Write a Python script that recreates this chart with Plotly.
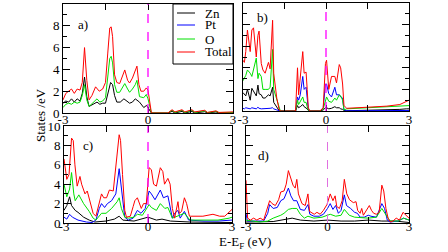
import plotly.graph_objects as go

# ---------------- data (energy in eV, DOS in states/eV) ----------------
# panel a
a_e_zn = [-3.0, -2.9, -2.8, -2.7, -2.6, -2.5, -2.4, -2.32, -2.24, -2.16, -2.08, -1.95, -1.8, -1.7, -1.6, -1.5, -1.42, -1.32, -1.25, -1.18, -1.1, -0.98, -0.85, -0.75, -0.65, -0.55, -0.45, -0.3, -0.15, -0.05, 0.05, 0.12, 0.7, 0.85, 0.95, 1.2, 1.3, 1.55, 1.65, 2.0, 2.1, 2.4, 2.5, 3.0]
a_zn = [0.9, 1.1, 1.0, 1.3, 1.0, 1.3, 1.1, 1.8, 3.3, 1.5, 0.6, 0.8, 1.0, 0.8, 0.9, 0.9, 1.8, 2.8, 2.6, 1.6, 1.0, 1.0, 1.3, 1.1, 0.9, 1.0, 1.3, 1.0, 0.5, 0.7, 0.3, 0.0, 0.0, 0.15, 0.0, 0.15, 0.0, 0.15, 0.0, 0.12, 0.0, 0.1, 0.0, 0.0]
a_e_o = [-3.0, -2.9, -2.8, -2.7, -2.6, -2.5, -2.4, -2.32, -2.24, -2.16, -2.08, -1.95, -1.8, -1.7, -1.6, -1.5, -1.42, -1.35, -1.3, -1.25, -1.18, -1.1, -1.0, -0.9, -0.82, -0.72, -0.65, -0.55, -0.45, -0.39, -0.3, -0.15, -0.06, 0.0, 0.06, 0.12, 0.7, 0.85, 0.95, 1.2, 1.3, 1.55, 1.65, 2.0, 2.1, 2.4, 2.5, 3.0]
a_o = [0.5, 0.8, 0.9, 0.8, 1.0, 0.9, 1.0, 1.6, 2.6, 1.2, 0.6, 0.9, 1.3, 1.0, 1.1, 1.4, 3.5, 5.0, 5.2, 4.6, 2.6, 1.9, 1.9, 2.3, 2.7, 2.2, 1.9, 2.2, 2.6, 3.0, 1.5, 1.4, 1.7, 1.3, 0.6, 0.0, 0.0, 0.25, 0.05, 0.25, 0.05, 0.25, 0.05, 0.2, 0.05, 0.15, 0.05, 0.05]
a_e_tot = [-3.0, -2.9, -2.8, -2.7, -2.6, -2.5, -2.4, -2.32, -2.24, -2.16, -2.08, -1.98, -1.85, -1.72, -1.6, -1.5, -1.42, -1.35, -1.3, -1.25, -1.18, -1.1, -1.0, -0.9, -0.82, -0.72, -0.65, -0.55, -0.45, -0.39, -0.32, -0.25, -0.15, -0.06, 0.0, 0.06, 0.12, 0.7, 0.85, 0.95, 1.2, 1.3, 1.55, 1.65, 2.0, 2.1, 2.4, 2.5, 2.8, 3.0]
a_tot = [1.2, 1.8, 2.0, 2.2, 1.8, 2.2, 2.1, 2.8, 6.0, 3.0, 1.2, 1.6, 2.4, 2.0, 2.2, 2.8, 5.5, 7.8, 7.9, 7.0, 3.5, 2.8, 2.7, 3.4, 3.95, 3.0, 2.75, 3.2, 3.8, 4.3, 2.6, 2.0, 2.0, 2.3, 2.1, 1.0, 0.0, 0.0, 0.3, 0.1, 0.3, 0.1, 0.3, 0.1, 0.25, 0.05, 0.2, 0.05, 0.1, 0.1]

# panel b
b_e = [-3.0, -2.95, -2.9, -2.84, -2.74, -2.68, -2.62, -2.52, -2.46, -2.42, -2.34, -2.28, -2.2, -2.08, -2.02, -1.93, -1.89, -1.78, -1.7, -1.65, -1.1, -1.03, -0.99, -0.93, -0.84, -0.79, -0.72, -0.68, -0.64, -0.58, -0.22, -0.1, -0.02, 0.02, 0.1, 0.2, 0.32, 0.38, 0.48, 0.53, 0.6, 0.65, 0.75, 1.5, 2.2, 2.67, 2.9, 3.0]
b_zn = [1.7, 1.5, 1.4, 2.0, 1.0, 2.1, 1.8, 1.4, 2.4, 1.6, 1.5, 1.2, 1.2, 1.5, 1.4, 2.2, 0.8, 0.3, 0.05, 0.0, 0.0, 0.5, 0.3, 0.4, 0.6, 0.4, 0.3, 0.2, 0.05, 0.0, 0.0, 0.1, 0.3, 0.3, 0.2, 0.25, 0.4, 0.3, 0.3, 0.2, 0.15, 0.05, 0.02, 0.05, 0.1, 0.15, 0.2, 0.2]
b_pt = [0.25, 0.2, 0.3, 0.25, 0.2, 0.3, 0.25, 0.2, 0.35, 0.25, 0.2, 0.2, 0.25, 0.2, 0.25, 0.3, 0.2, 0.1, 0.05, 0.0, 0.0, 1.3, 1.0, 1.5, 3.2, 2.0, 2.2, 1.2, 0.2, 0.0, 0.0, 0.3, 2.5, 2.5, 1.6, 1.3, 2.2, 1.5, 1.5, 1.3, 1.2, 0.1, 0.02, 0.03, 0.05, 0.05, 0.05, 0.05]
b_o = [2.8, 3.0, 3.3, 3.8, 3.5, 3.2, 3.8, 4.9, 3.0, 3.5, 3.2, 2.0, 2.0, 2.0, 2.2, 5.7, 2.0, 1.0, 0.2, 0.0, 0.0, 1.0, 0.6, 0.9, 1.3, 0.8, 0.8, 0.4, 0.1, 0.0, 0.0, 0.2, 1.0, 1.3, 0.9, 0.8, 1.2, 1.0, 1.5, 1.4, 1.0, 0.1, 0.2, 0.3, 0.35, 0.4, 0.5, 0.5]
b_tot = [4.7, 4.5, 5.5, 7.5, 5.5, 7.5, 7.7, 5.0, 7.0, 7.4, 4.4, 3.8, 3.5, 4.5, 3.9, 8.4, 3.5, 1.2, 0.2, 0.0, 0.0, 4.0, 1.5, 3.0, 5.5, 3.5, 3.6, 2.0, 0.3, 0.0, 0.0, 0.3, 4.4, 4.7, 2.0, 3.2, 3.2, 2.6, 4.3, 4.0, 2.5, 0.5, 0.25, 0.35, 0.45, 0.6, 0.9, 1.0]

# panel c
c_e_zn = [-3.0, -2.9, -2.8, -2.73, -2.6, -2.5, -2.3, -2.1, -1.9, -1.5, -1.2, -1.03, -0.9, -0.5, 0.0, 0.1, 0.3, 0.5, 0.8, 1.5, 3.0]
c_zn = [1.3, 1.8, 2.7, 1.8, 1.3, 1.1, 0.6, 0.3, 0.1, 0.2, 0.4, 0.7, 0.3, 0.2, 0.6, 0.5, 0.3, 0.4, 0.2, 0.1, 0.05]
c_e_pt = [-3.0, -2.9, -2.8, -2.7, -2.5, -2.2, -2.0, -1.86, -1.74, -1.66, -1.55, -1.45, -1.3, -1.15, -1.03, -0.95, -0.83, -0.7, -0.53, -0.38, -0.25, -0.1, 0.04, 0.12, 0.25, 0.44, 0.55, 0.71, 0.87, 0.95, 1.07, 1.15, 1.3, 1.45, 2.0, 2.5, 3.0]
c_pt = [0.6, 0.4, 0.9, 0.6, 0.3, 0.1, 0.05, 0.3, 1.5, 2.0, 1.6, 2.0, 2.3, 3.0, 5.6, 3.8, 0.6, 0.3, 0.5, 1.3, 1.0, 1.5, 3.3, 3.0, 2.4, 3.4, 2.6, 2.8, 0.5, 1.0, 1.3, 0.5, 1.2, 0.3, 0.2, 0.2, 0.3]
c_e_o = [-3.0, -2.9, -2.8, -2.73, -2.65, -2.6, -2.47, -2.3, -2.1, -1.96, -1.86, -1.74, -1.66, -1.5, -1.3, -1.1, -1.03, -0.95, -0.83, -0.7, -0.5, -0.38, -0.2, 0.04, 0.12, 0.3, 0.44, 0.6, 0.71, 0.87, 1.07, 1.3, 1.5, 2.0, 2.5, 2.9, 3.0]
c_o = [4.0, 2.7, 3.5, 5.2, 3.0, 2.3, 2.9, 2.0, 1.2, 0.5, 0.3, 0.7, 1.0, 1.0, 1.5, 2.2, 2.6, 1.5, 0.6, 0.5, 0.6, 0.9, 0.8, 1.9, 1.6, 1.3, 2.0, 1.5, 1.6, 0.5, 0.7, 1.0, 0.3, 0.3, 0.3, 0.5, 0.6]
c_e_tot = [-3.0, -2.9, -2.82, -2.73, -2.67, -2.61, -2.53, -2.43, -2.37, -2.25, -2.17, -2.07, -1.96, -1.86, -1.74, -1.66, -1.58, -1.48, -1.38, -1.24, -1.03, -0.98, -0.91, -0.83, -0.77, -0.63, -0.53, -0.47, -0.38, -0.3, -0.24, -0.16, -0.06, 0.04, 0.12, 0.2, 0.3, 0.44, 0.53, 0.59, 0.71, 0.79, 0.87, 0.95, 1.07, 1.12, 1.2, 1.3, 1.38, 1.48, 1.72, 1.96, 2.32, 2.56, 2.74, 2.92, 3.0]
c_tot = [6.6, 4.5, 5.0, 8.75, 8.5, 6.0, 3.8, 4.8, 4.0, 3.0, 3.3, 2.3, 1.0, 0.7, 2.0, 3.0, 2.6, 2.6, 3.4, 3.3, 9.1, 8.5, 5.0, 1.3, 0.6, 0.7, 1.7, 2.3, 2.6, 2.0, 1.5, 2.0, 2.0, 5.7, 5.5, 4.0, 3.8, 5.7, 5.3, 4.0, 4.6, 4.0, 1.5, 0.5, 2.2, 1.0, 1.2, 2.6, 2.0, 0.7, 0.7, 0.7, 0.9, 0.7, 0.7, 1.2, 1.4]

# panel d
d_e_zn = [-3.0, -2.0, -1.5, -1.3, -1.0, -0.5, 0.0, 0.5, 1.0, 1.5, 2.0, 2.5, 3.0]
d_zn = [0.1, 0.15, 0.4, 0.5, 0.3, 0.2, 0.3, 0.2, 0.2, 0.3, 0.2, 0.2, 0.05]
d_e_pt = [-3.0, -2.95, -2.35, -2.2, -2.13, -2.0, -1.85, -1.72, -1.6, -1.44, -1.35, -1.25, -1.13, -1.0, -0.85, -0.72, -0.65, -0.5, -0.3, -0.15, 0.0, 0.1, 0.2, 0.3, 0.4, 0.5, 0.62, 0.7, 0.85, 1.0, 1.1, 1.2, 1.35, 1.5, 1.6, 1.8, 2.0, 2.1, 2.2, 2.3, 2.6, 2.8, 3.0]
d_pt = [1.0, 0.2, 0.2, 1.0, 1.9, 1.5, 1.6, 2.3, 2.5, 3.6, 2.8, 2.3, 2.3, 1.4, 1.3, 1.9, 0.9, 0.7, 0.7, 0.9, 1.5, 2.0, 1.4, 1.8, 1.0, 1.3, 2.9, 1.8, 1.5, 1.1, 1.0, 0.6, 0.6, 0.8, 0.7, 0.6, 2.0, 1.5, 0.3, 0.1, 0.2, 0.5, 0.3]
d_e_o = [-3.0, -2.5, -2.2, -2.13, -2.0, -1.72, -1.6, -1.44, -1.3, -1.13, -1.0, -0.85, -0.72, -0.5, -0.2, 0.1, 0.3, 0.5, 0.62, 0.8, 1.0, 1.5, 1.8, 2.0, 2.15, 2.3, 2.6, 2.8, 3.0]
d_o = [0.3, 0.1, 0.2, 0.3, 0.5, 0.8, 1.0, 1.4, 1.5, 1.5, 0.9, 0.5, 0.7, 0.5, 0.6, 0.9, 0.7, 0.8, 1.4, 0.8, 0.6, 0.5, 0.6, 1.5, 0.9, 0.2, 0.2, 0.5, 0.3]
d_e_tot = [-3.0, -2.94, -2.84, -2.72, -2.6, -2.48, -2.35, -2.23, -2.13, -2.04, -1.92, -1.8, -1.72, -1.6, -1.52, -1.44, -1.37, -1.27, -1.19, -1.13, -1.07, -0.94, -0.82, -0.72, -0.66, -0.57, -0.49, -0.39, -0.27, -0.15, -0.02, 0.1, 0.2, 0.28, 0.34, 0.44, 0.54, 0.62, 0.71, 0.81, 0.87, 0.95, 1.05, 1.11, 1.2, 1.26, 1.32, 1.42, 1.54, 1.62, 1.7, 1.8, 1.9, 2.0, 2.07, 2.15, 2.23, 2.32, 2.41, 2.53, 2.65, 2.78, 2.9, 3.0]
d_tot = [4.4, 0.5, 0.3, 0.5, 0.3, 0.5, 0.3, 1.5, 2.3, 2.0, 1.8, 2.4, 3.2, 3.3, 4.0, 5.4, 4.8, 3.9, 3.6, 4.5, 3.0, 2.0, 1.8, 3.0, 1.2, 1.0, 0.9, 1.1, 0.9, 1.3, 1.9, 3.0, 2.3, 2.8, 1.7, 1.5, 2.3, 4.5, 3.0, 2.4, 2.3, 2.1, 2.2, 1.3, 1.0, 1.5, 0.8, 1.2, 1.8, 1.3, 1.0, 0.9, 1.1, 3.9, 3.3, 1.5, 0.5, 0.1, 0.2, 0.5, 0.3, 1.1, 0.8, 0.5]

series_names = ["Zn", "Pt", "O", "Total"]
series_colors = ["#000000", "#0000ff", "#00e000", "#ff0000"]
panel_labels = ["a)", "b)", "c)", "d)"]
x_ticks = [-3, -1.5, 0, 1.5, 3]
x_tick_text = ["-3", " ", "0", " ", "3"]

# ---------------- figure ----------------
W, H = 448, 252
FONT = "Liberation Serif, Times New Roman, serif"


def px_x(p):
    return p / W


def px_y(p):
    return 1 - p / H


fig = go.Figure()

panels = {
    "a": dict(xd=[px_x(63), px_x(233)], yd=[px_y(113), px_y(4)], ylab=True, xoff=-6),
    "b": dict(xd=[px_x(243), px_x(409)], yd=[px_y(111), px_y(3)], ylab=False, xoff=-4),
    "c": dict(xd=[px_x(64), px_x(232)], yd=[px_y(223), px_y(126)], ylab=True, xoff=-9),
    "d": dict(xd=[px_x(246), px_x(409)], yd=[px_y(223), px_y(126)], ylab=False, xoff=-9),
}
axis_ids = {"a": ("x", "y"), "b": ("x2", "y2"), "c": ("x3", "y3"), "d": ("x4", "y4")}

panel_data = {
    "a": [(a_e_zn, a_zn), None, (a_e_o, a_o), (a_e_tot, a_tot)],
    "b": [(b_e, b_zn), (b_e, b_pt), (b_e, b_o), (b_e, b_tot)],
    "c": [(c_e_zn, c_zn), (c_e_pt, c_pt), (c_e_o, c_o), (c_e_tot, c_tot)],
    "d": [(d_e_zn, d_zn), (d_e_pt, d_pt), (d_e_o, d_o), (d_e_tot, d_tot)],
}

for key in ["a", "b", "c", "d"]:
    xa, ya = axis_ids[key]
    for i, sd in enumerate(panel_data[key]):
        if sd is None:
            continue
        fig.add_trace(go.Scatter(
            x=sd[0], y=sd[1], mode="lines", name=series_names[i],
            line=dict(color=series_colors[i], width=1),
            xaxis=xa, yaxis=ya, showlegend=False,
        ))

label_pos = {"a": (-2.3, 8.1), "b": (-2.31, 8.7), "c": (-2.14, 8.0), "d": (-2.37, 7.0)}

for n, key in enumerate(["a", "b", "c", "d"]):
    p = panels[key]
    xa, ya = axis_ids[key]
    xname = "xaxis" if xa == "x" else "xaxis" + xa[1:]
    yname = "yaxis" if ya == "y" else "yaxis" + ya[1:]
    fig.layout[xname] = dict(
        domain=p["xd"], range=[-3, 3], anchor=ya,
        tickmode="array", tickvals=x_ticks, ticktext=x_tick_text,
        ticks="inside", ticklen=6, tickcolor="black",
        showline=True, linecolor="black", linewidth=1, mirror="allticks",
        showgrid=False, zeroline=False, ticklabelstandoff=p["xoff"],
        tickfont=dict(family=FONT, size=13, color="black"),
    )
    fig.layout[yname] = dict(
        domain=p["yd"], range=[0, 10], anchor=xa,
        tickmode="linear", tick0=0, dtick=2,
        ticks="inside", ticklen=7, tickcolor="black",
        minor=dict(dtick=1, ticks="inside", ticklen=4, tickcolor="black"),
        showline=True, linecolor="black", linewidth=1, mirror="allticks",
        showgrid=False, zeroline=False, showticklabels=p["ylab"],
        tickfont=dict(family=FONT, size=13, color="black"),
    )
    # Fermi level
    fig.add_shape(type="line", x0=0, x1=0, y0=0, y1=10, xref=xa, yref=ya,
                  line=dict(color="#ff00ff" if key != "d" else "#e070e0",
                            width=1.3 if key != "d" else 1, dash="dash"),
                  layer="above")
    lx, ly = label_pos[key]
    fig.add_annotation(x=lx, y=ly, xref=xa, yref=ya, text=panel_labels[n],
                       showarrow=False, xanchor="center", yanchor="middle",
                       font=dict(family=FONT, size=13, color="black"))

# manual legend box (in panel a)
fig.add_shape(type="rect", xref="paper", yref="paper",
              x0=px_x(173), x1=px_x(233), y0=px_y(64), y1=px_y(4),
              line=dict(color="black", width=1), fillcolor="white", layer="above")
leg_y = [13, 25, 39, 52]
for i, name in enumerate(series_names):
    fig.add_shape(type="line", xref="paper", yref="paper",
                  x0=px_x(177), x1=px_x(195), y0=px_y(leg_y[i]), y1=px_y(leg_y[i]),
                  line=dict(color=series_colors[i], width=1), layer="above")
    fig.add_annotation(x=px_x(203), y=px_y(leg_y[i]), xref="paper", yref="paper",
                       text=name, showarrow=False, xanchor="left", yanchor="middle",
                       font=dict(family=FONT, size=13, color="black"))

fig.add_annotation(x=px_x(41), y=px_y(115), xref="paper", yref="paper",
                   text="States /eV", textangle=-90, showarrow=False,
                   xanchor="center", yanchor="middle",
                   font=dict(family=FONT, size=13, color="black"))
fig.add_annotation(x=px_x(245), y=px_y(242), xref="paper", yref="paper",
                   text="E-E<sub>F</sub> (eV)", showarrow=False,
                   xanchor="center", yanchor="middle",
                   font=dict(family=FONT, size=13, color="black"))

fig.update_layout(
    width=W, height=H,
    margin=dict(l=0, r=0, t=0, b=0, autoexpand=False),
    paper_bgcolor="white", plot_bgcolor="white",
    showlegend=False,
)

fig.write_html("out.html", config={"displayModeBar": False},
               post_script="document.body.style.margin='0';document.body.style.padding='0';")
